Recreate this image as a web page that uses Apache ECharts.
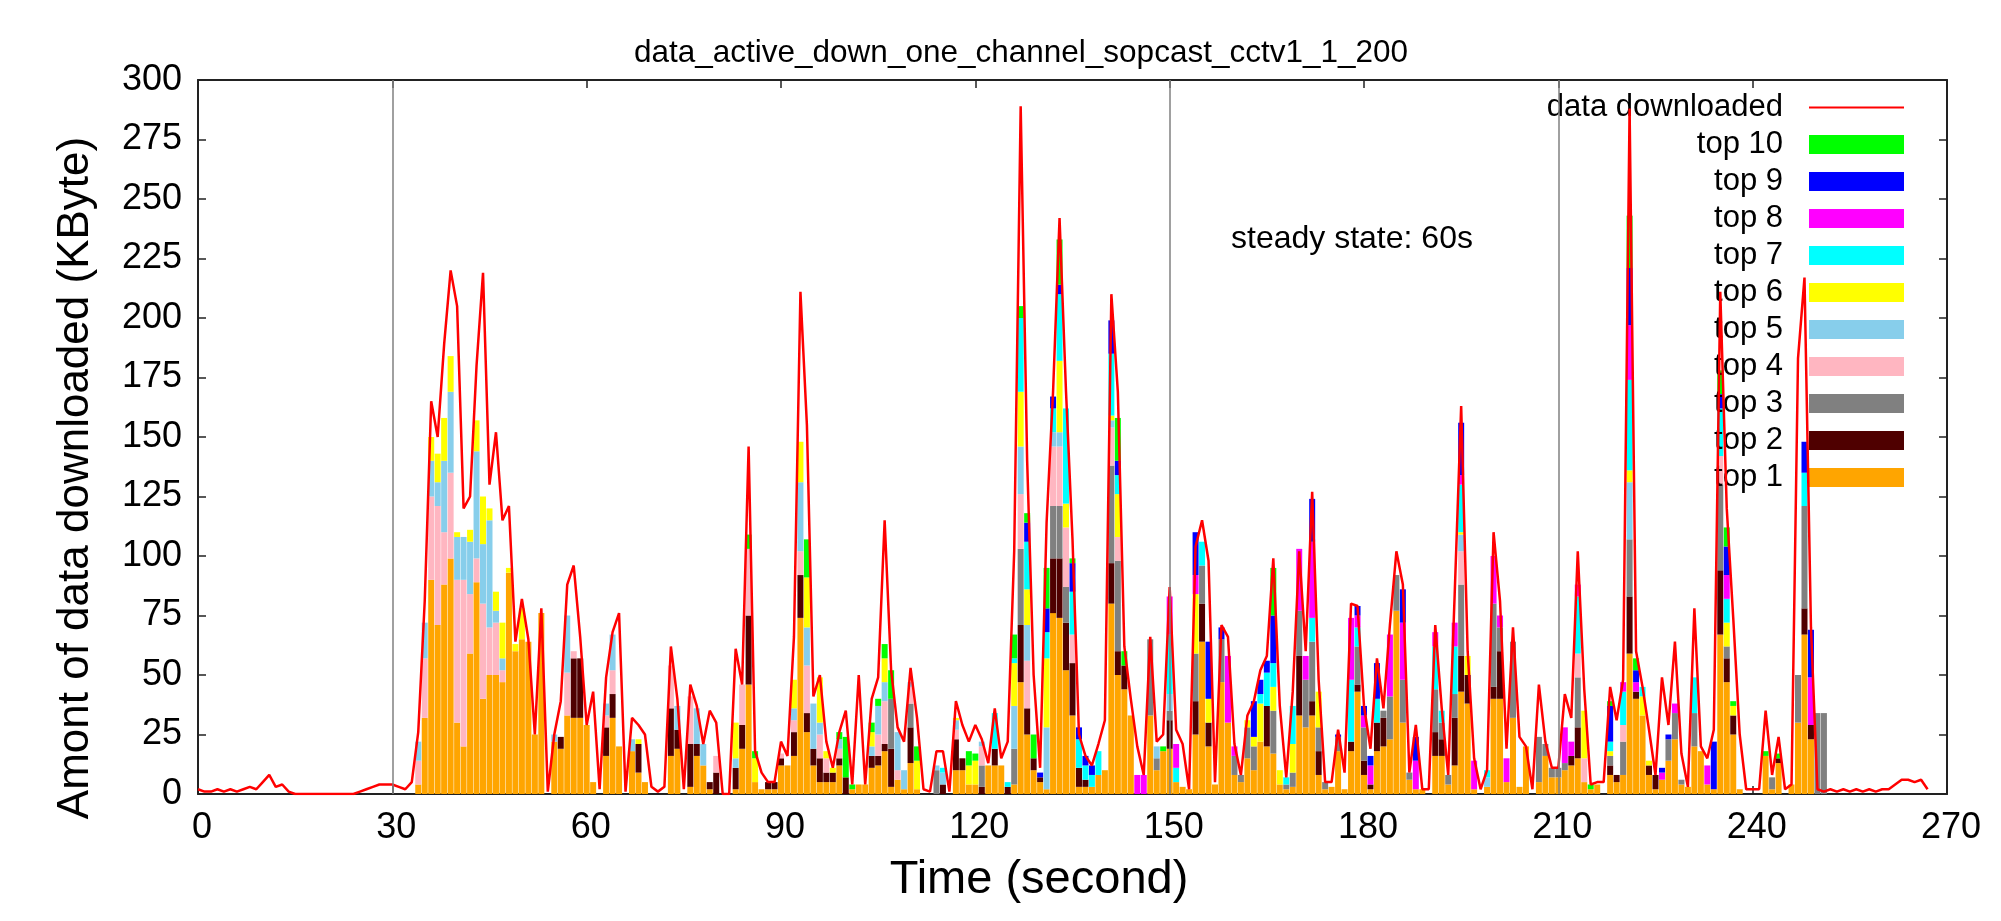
<!DOCTYPE html>
<html>
<head>
<meta charset="utf-8">
<title>data_active_down_one_channel_sopcast_cctv1_1_200</title>
<script src="https://cdn.jsdelivr.net/npm/echarts@6/dist/echarts.min.js"></script>
<style>
  html, body { margin: 0; padding: 0; background: #fff; }
  #main { width: 2001px; height: 921px; }
</style>
</head>
<body>
<div id="main"></div>
<script type="text/javascript">
// data downloaded per second, t = 0 .. 267 (KByte)
var total = [
  2,1,1,2,1,2,1,2,3,2,
  5,8,3,4,1,0,0,0,0,0,
  0,0,0,0,0,1,2,3,4,4,
  4,3,2,5,26,81,165,150,189,220,
  205,120,125,180,219,130,152,115,121,64,
  82,65,25,78,1,25,39,88,96,66,
  29,43,2,49,68,76,1,32,29,25,
  3,1,3,62,40,2,46,37,21,35,
  30,0,0,61,46,146,18,9,5,5,
  22,16,66,211,155,41,50,22,11,26,
  35,4,50,4,40,49,115,52,28,22,
  53,32,2,1,18,18,1,39,29,22,
  29,23,13,36,15,22,102,289,140,50,
  11,114,169,242,169,107,25,16,12,21,
  31,210,169,62,40,20,8,66,22,25,
  87,27,21,2,104,115,98,5,71,66,
  21,8,33,39,52,58,99,37,7,43,
  102,60,127,48,5,5,27,9,80,79,
  37,19,57,36,71,102,88,9,29,2,
  2,71,36,8,84,163,60,15,2,10,
  110,81,19,70,24,20,2,46,22,11,
  11,42,32,102,44,4,5,5,45,31,
  48,288,60,45,27,8,49,29,64,17,
  3,78,20,15,27,211,120,74,25,2,
  2,2,35,8,24,2,4,183,217,70,
  2,1,2,1,2,1,2,1,2,1,
  2,2,4,6,6,5,6,2
];

// share of the top peers, [second, KByte]
var top1 = [[34,4],[35,32],[36,90],[37,71],[38,88],[39,99],[40,30],[41,20],[42,59],[43,89],[44,40],[45,50],[46,50],[47,47],[48,93],[49,60],[50,65],[51,64],[52,25],[53,76],[55,22],[56,19],[57,33],[58,32],[59,32],[60,29],[61,5],[63,16],[64,32],[65,20],[67,18],[68,9],[69,5],[73,16],[74,19],[76,3],[77,16],[78,12],[79,2],[83,2],[84,19],[85,46],[86,5],[87,2],[88,2],[89,2],[90,12],[91,12],[92,16],[93,74],[94,26],[95,12],[96,5],[97,5],[98,5],[99,12],[101,2],[102,4],[103,4],[104,11],[105,12],[106,18],[107,3],[108,6],[109,2],[110,13],[111,2],[117,10],[118,10],[119,4],[120,4],[122,12],[123,12],[124,12],[126,4],[127,47],[128,25],[129,10],[130,5],[131,2],[132,76],[133,74],[134,52],[135,33],[136,3],[137,3],[138,3],[139,8],[140,10],[141,80],[142,50],[143,44],[144,33],[147,33],[148,10],[149,18],[150,19],[151,5],[152,3],[153,2],[154,25],[155,64],[156,20],[157,4],[158,47],[159,30],[160,8],[161,5],[162,15],[163,10],[164,22],[165,20],[166,17],[167,4],[168,2],[169,3],[170,33],[171,28],[172,33],[173,8],[174,2],[175,3],[176,18],[177,2],[178,18],[179,43],[180,8],[181,2],[182,18],[183,20],[184,23],[185,77],[186,30],[187,6],[188,2],[189,2],[191,16],[192,16],[193,4],[194,12],[195,43],[196,38],[197,2],[199,3],[200,40],[201,40],[202,5],[203,32],[204,3],[205,20],[207,5],[208,16],[209,7],[210,7],[211,10],[212,12],[213,15],[214,5],[215,2],[216,4],[218,8],[219,5],[220,8],[221,59],[222,40],[223,33],[224,8],[225,2],[226,6],[227,14],[228,23],[229,4],[230,3],[231,20],[232,18],[233,4],[234,2],[235,67],[236,47],[237,25],[238,2],[242,16],[243,2],[244,13],[246,4],[247,30],[248,67],[249,23]];
var top2 = [[56,5],[58,25],[59,25],[63,12],[64,10],[68,12],[73,20],[74,8],[76,18],[77,5],[79,3],[80,9],[83,9],[84,10],[85,29],[88,3],[89,3],[90,3],[92,10],[93,18],[94,8],[95,7],[96,10],[97,4],[98,4],[99,3],[100,7],[104,5],[105,4],[106,3],[107,16],[110,15],[115,4],[117,13],[118,5],[121,3],[123,7],[125,3],[127,24],[128,11],[129,5],[130,2],[132,23],[133,25],[134,20],[135,22],[136,8],[137,3],[141,17],[142,10],[143,10],[150,12],[154,14],[155,16],[156,10],[165,17],[170,25],[172,6],[173,10],[178,4],[179,3],[180,6],[181,2],[182,12],[183,12],[191,10],[192,7],[194,20],[195,15],[196,12],[200,5],[201,20],[212,4],[213,13],[218,4],[219,3],[221,24],[222,3],[224,4],[225,6],[235,27],[236,10],[237,8],[244,2],[248,11],[249,6]];
var top3 = [[107,21],[110,10],[114,10],[121,9],[126,15],[127,32],[132,22],[133,22],[134,15],[141,41],[142,38],[147,32],[148,5],[150,4],[154,20],[155,16],[158,18],[160,8],[161,3],[162,13],[163,10],[166,18],[168,2],[169,6],[170,19],[171,20],[172,25],[173,10],[174,3],[176,6],[179,16],[180,14],[183,3],[184,18],[185,15],[186,18],[187,3],[191,18],[192,7],[193,4],[194,10],[195,30],[200,35],[201,10],[203,32],[207,19],[208,5],[209,4],[210,4],[211,3],[213,21],[218,4],[220,14],[221,24],[227,9],[228,11],[229,2],[231,14],[235,36],[236,5],[243,5],[247,20],[248,43],[250,34],[251,34]];
var top4 = [[34,10],[35,25],[36,35],[37,50],[38,22],[39,36],[40,60],[41,70],[42,25],[43,10],[44,40],[45,20],[46,22],[47,5],[57,18],[58,3],[63,5],[64,10],[73,18],[76,20],[80,7],[84,17],[85,28],[90,2],[92,5],[93,10],[94,20],[96,10],[97,6],[99,4],[105,9],[106,18],[108,4],[110,7],[117,4],[121,8],[127,23],[128,20],[132,25],[133,25],[134,25],[135,12],[141,16],[142,10],[195,14],[213,10],[214,10],[220,7],[235,12]];
var top5 = [[34,8],[35,15],[36,15],[37,10],[38,30],[39,34],[40,18],[41,18],[42,22],[43,45],[44,25],[45,45],[46,5],[47,5],[55,3],[57,24],[63,5],[64,15],[67,5],[74,10],[77,15],[78,9],[83,4],[92,5],[93,29],[94,16],[95,19],[96,5],[99,4],[104,4],[105,12],[106,8],[108,16],[109,8],[110,2],[114,2],[115,5],[117,4],[121,2],[126,18],[127,20],[128,15],[131,26],[132,6],[133,6],[141,3],[148,5],[150,7],[195,7],[199,4],[221,24]];
var top6 = [[36,10],[37,12],[38,18],[39,15],[40,2],[42,5],[43,13],[44,20],[45,5],[46,8],[47,15],[48,2],[49,3],[50,13],[68,2],[83,15],[86,10],[92,12],[93,17],[94,21],[96,19],[97,3],[98,2],[104,6],[106,10],[111,12],[117,1],[119,8],[120,10],[126,18],[127,23],[128,15],[131,29],[133,30],[134,10],[141,2],[142,18],[154,25],[156,10],[162,3],[163,4],[164,16],[166,10],[167,6],[169,12],[173,15],[195,1],[196,8],[214,20],[218,2],[221,5],[223,8],[224,2],[236,10],[237,4]];
var top7 = [[115,2],[123,15],[125,2],[126,2],[127,31],[128,20],[131,11],[132,10],[133,28],[134,40],[135,18],[136,12],[137,6],[138,5],[139,10],[141,26],[142,8],[150,25],[151,6],[155,10],[164,4],[165,14],[166,10],[168,3],[169,16],[172,10],[178,26],[179,8],[182,10],[191,18],[192,5],[194,20],[195,20],[199,3],[213,24],[218,4],[220,14],[221,38],[223,4],[231,15],[235,20],[236,10],[248,14]];
var top8 = [[145,8],[146,8],[150,16],[151,10],[154,8],[159,28],[160,4],[170,26],[171,10],[172,32],[178,26],[179,5],[180,5],[181,8],[184,26],[186,24],[188,12],[191,6],[194,10],[195,4],[197,12],[200,20],[201,5],[202,10],[211,15],[212,6],[213,5],[220,4],[221,23],[222,4],[226,3],[228,4],[233,8],[236,10],[249,20]];
var top9 = [[128,8],[130,2],[131,10],[132,5],[133,4],[135,12],[136,5],[137,4],[138,4],[141,14],[142,6],[154,18],[156,24],[158,5],[163,15],[164,6],[165,5],[166,20],[172,18],[176,1],[179,4],[180,4],[181,4],[182,15],[186,14],[188,10],[195,22],[218,15],[221,24],[222,5],[226,2],[227,2],[234,20],[235,6],[236,12],[248,13],[249,20]];
var top10 = [[85,6],[86,3],[94,16],[99,3],[100,17],[101,2],[104,4],[105,3],[106,6],[107,12],[111,6],[119,6],[120,3],[126,10],[127,5],[128,4],[129,10],[131,17],[133,19],[135,2],[142,18],[143,6],[149,2],[166,20],[215,2],[218,2],[221,22],[222,5],[235,10],[236,8],[237,2],[242,2],[244,2]];

var layerNames = ['top 1','top 2','top 3','top 4','top 5','top 6','top 7','top 8','top 9','top 10'];
var layerData = [top1, top2, top3, top4, top5, top6, top7, top8, top9, top10];
var layerColors = ['#ffa500','#4f0000','#808080','#ffb6c1','#87ceeb','#ffff00','#00ffff','#ff00ff','#0000ff','#00ff00'];

var steadyLines = [30, 150, 210];
var xMax = 270, xStep = 30;
var yMax = 300, yStep = 25;

var FONT = '"Liberation Sans", Arial, Helvetica, sans-serif';

// one category per second 0..270, laid on the ticks (boundaryGap false) so it lines up with the value axis
var seconds = [];
for (var s = 0; s <= xMax; s++) seconds.push(String(s));

function dense(pairs) {
  var out = seconds.map(function () { return 0; });
  pairs.forEach(function (p) { out[p[0]] = p[1]; });
  return out;
}

var myChart = echarts.init(document.getElementById('main'));

var series = layerData.map(function (d, i) {
  return {
    name: layerNames[i],
    type: 'bar',
    stack: 'peers',
    xAxisIndex: 2,
    barWidth: 6,
    data: dense(d),
    itemStyle: { color: layerColors[i] },
    z: 2
  };
});
series.push({
  name: 'data downloaded',
  type: 'line',
  data: total.map(function (v, i) { return [i, v]; }),
  symbol: 'none',
  showSymbol: false,
  lineStyle: { color: '#ff0000', width: 2.5 },
  itemStyle: { color: '#ff0000' },
  z: 4
});
series.push({
  name: 'steady',
  type: 'line',
  data: [],
  z: 1,
  markLine: {
    silent: true,
    symbol: 'none',
    label: { show: false },
    lineStyle: { color: '#808080', type: 'solid', width: 1.5 },
    data: steadyLines.map(function (x) { return { xAxis: x }; })
  }
});

// thin line icon: invisible points at top and bottom keep the stroke from stretching
var lineIcon = 'path://M0,0L0.01,0Z M0,9L100,9L100,11L0,11Z M0,20L0.01,20Z';
var legendData = [{ name: 'data downloaded', icon: lineIcon, itemStyle: { color: '#ff0000' } }];
for (var i = layerNames.length - 1; i >= 0; i--) {
  legendData.push({ name: layerNames[i], icon: 'rect' });
}

var frame = { show: true, lineStyle: { color: '#222', width: 2 }, onZero: false };

var option = {
  animation: false,
  backgroundColor: '#fff',
  textStyle: { fontFamily: FONT },
  grid: { left: 198, right: 54, top: 80, bottom: 127, containLabel: false },
  legend: {
    data: legendData,
    orient: 'vertical',
    align: 'right',
    right: 97,
    top: 92,
    padding: 0,
    itemWidth: 95,
    itemHeight: 19,
    itemGap: 6,
    selectedMode: false,
    textStyle: { fontSize: 31, fontFamily: FONT, color: '#000', padding: [0, 21, 0, 0] }
  },
  xAxis: [{
    type: 'value', min: 0, max: xMax, interval: xStep,
    axisLine: frame,
    axisTick: { inside: true, length: 8, lineStyle: { color: '#222', width: 1.5 } },
    axisLabel: { fontSize: 36, color: '#000', fontFamily: FONT, margin: 16, padding: [0, 0, 0, 8] },
    splitLine: { show: false }
  }, {
    type: 'value', min: 0, max: xMax, interval: xStep, position: 'top',
    axisLine: frame,
    axisTick: { inside: true, length: 8, lineStyle: { color: '#222', width: 1.5 } },
    axisLabel: { show: false },
    splitLine: { show: false }
  }, {
    type: 'category', data: seconds, boundaryGap: false, position: 'bottom',
    show: false
  }],
  yAxis: [{
    type: 'value', min: 0, max: yMax, interval: yStep,
    axisLine: frame,
    axisTick: { inside: true, length: 8, lineStyle: { color: '#222', width: 1.5 } },
    axisLabel: { fontSize: 36, color: '#000', fontFamily: FONT, margin: 16 },
    splitLine: { show: false }
  }, {
    type: 'value', min: 0, max: yMax, interval: yStep, position: 'right',
    axisLine: frame,
    axisTick: { inside: true, length: 8, lineStyle: { color: '#222', width: 1.5 } },
    axisLabel: { show: false },
    splitLine: { show: false }
  }],
  graphic: [{
    type: 'text', x: 1021, y: 53,
    style: { text: 'data_active_down_one_channel_sopcast_cctv1_1_200', fontSize: 31.5, fontFamily: FONT, fill: '#000',
      align: 'center', verticalAlign: 'middle', textAlign: 'center', textVerticalAlign: 'middle' }
  }, {
    type: 'text', x: 1039, y: 880,
    style: { text: 'Time (second)', fontSize: 47, fontFamily: FONT, fill: '#000',
      align: 'center', verticalAlign: 'middle', textAlign: 'center', textVerticalAlign: 'middle' }
  }, {
    type: 'text', x: 76, y: 478, rotation: Math.PI / 2,
    style: { text: 'Amont of data downloaded (KByte)', fontSize: 44, fontFamily: FONT, fill: '#000',
      align: 'center', verticalAlign: 'middle', textAlign: 'center', textVerticalAlign: 'middle' }
  }, {
    type: 'text', x: 1231, y: 239,
    style: { text: 'steady state: 60s', fontSize: 32, fontFamily: FONT, fill: '#000',
      align: 'left', verticalAlign: 'middle', textAlign: 'left', textVerticalAlign: 'middle' }
  }],
  series: series
};

myChart.setOption(option);
</script>
</body>
</html>
